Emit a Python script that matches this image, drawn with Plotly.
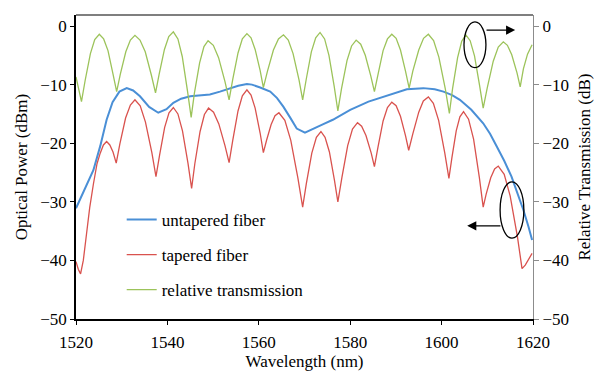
import plotly.graph_objects as go

# ---------------- data ----------------
blue_wl = [1520.0, 1522.0, 1523.8, 1525.3, 1526.7, 1528.0, 1529.5, 1531.1, 1532.5, 1534.0,
           1536.0, 1538.0, 1539.8, 1541.3, 1543.0, 1545.0, 1547.0, 1549.3, 1551.5, 1553.7,
           1555.5, 1557.4, 1558.5, 1560.3, 1562.5, 1564.0, 1565.4, 1567.0, 1568.3, 1570.1,
           1571.9, 1574.0, 1576.2, 1580.0, 1584.0, 1587.2, 1590.0, 1592.4, 1596.0, 1598.5,
           1600.4, 1602.3, 1604.0, 1606.5, 1609.1, 1610.6, 1612.1, 1613.7, 1615.3, 1616.6,
           1617.9, 1619.0, 1619.8]
blue_dbm = [-31.1, -27.8, -24.6, -20.5, -16.0, -13.0, -11.2, -10.6, -11.0, -12.0,
            -13.8, -14.8, -14.2, -13.1, -12.4, -12.0, -11.9, -11.7, -11.2, -10.6,
            -10.2, -9.9, -10.0, -10.5, -11.2, -12.3, -13.8, -15.8, -17.5, -18.2,
            -17.6, -16.8, -16.0, -14.3, -12.9, -12.1, -11.3, -10.8, -10.6, -10.8,
            -11.2, -11.8, -12.6, -14.3, -16.6, -18.4, -20.6, -23.0, -25.7, -28.4,
            -31.4, -34.2, -36.5]

red_wl = [1520.0, 1520.5, 1521.0,
          1521.6, 1522.3, 1523.0, 1523.8, 1524.6, 1525.3, 1526.0, 1526.7, 1527.4, 1528.1, 1528.8,
          1529.6, 1530.85, 1531.9, 1532.9, 1534.05, 1535.2, 1536.6, 1537.5,
          1538.3, 1539.4, 1540.35, 1541.3, 1542.3, 1543.3, 1544.5, 1545.3,
          1546.0, 1547.15, 1548.1, 1549.0, 1550.1, 1551.25, 1552.6, 1553.5,
          1554.3, 1555.45, 1556.4, 1557.4, 1558.3, 1559.2, 1560.3, 1561.0,
          1561.7, 1562.7, 1563.55, 1564.4, 1565.7, 1567.0, 1568.55, 1569.6,
          1570.4, 1571.6, 1572.6, 1573.6, 1574.5, 1575.45, 1576.55, 1577.3,
          1578.2, 1579.45, 1580.5, 1581.6, 1582.5, 1583.45, 1584.6, 1585.3,
          1586.1, 1587.2, 1588.15, 1589.1, 1590.05, 1591.0, 1592.1, 1592.8,
          1593.7, 1595.0, 1596.0, 1597.1, 1598.2, 1599.35, 1600.7, 1601.6,
          1602.25, 1603.2, 1604.0, 1604.8, 1605.9, 1607.0, 1608.25, 1609.1,
          1609.75, 1610.75, 1611.6, 1612.4, 1613.7, 1615.0, 1616.6, 1617.6,
          1618.3, 1619.0, 1619.8]
red_dbm = [-40.2, -41.5, -42.3,
           -40.0, -35.5, -31.0, -27.0, -23.5, -21.7, -20.3, -19.7, -20.3, -21.5, -23.4,
           -20.1, -15.7, -13.5, -12.6, -13.6, -16.4, -21.6, -25.7,
           -22.0, -17.3, -14.8, -13.9, -15.0, -17.9, -23.4, -27.7,
           -23.5, -18.0, -15.1, -14.0, -14.7, -16.7, -20.4, -23.3,
           -19.5, -14.5, -11.9, -10.9, -11.8, -14.0, -18.3, -21.6,
           -19.5, -16.8, -15.3, -14.8, -16.1, -19.5, -25.9, -30.9,
           -26.9, -21.7, -19.0, -18.0, -19.0, -21.5, -26.3, -30.0,
           -25.8, -20.4, -17.6, -16.5, -17.1, -18.7, -21.7, -24.0,
           -20.6, -16.2, -13.9, -13.0, -13.6, -15.4, -18.7, -21.2,
           -18.4, -14.7, -12.8, -12.1, -13.2, -16.1, -21.7, -26.0,
           -22.5, -17.9, -15.5, -14.6, -15.9, -19.3, -25.8, -30.9,
           -28.7, -25.9, -24.4, -23.9, -25.3, -29.0, -36.0, -41.4,
           -40.8, -39.8, -38.8]

green_wl = [1520.0, 1520.6, 1521.2,
            1522.0, 1523.15, 1524.1, 1525.1, 1526.05, 1527.0, 1528.1, 1528.9,
            1529.7, 1530.9, 1531.9, 1532.9, 1534.0, 1535.15, 1536.5, 1537.4,
            1538.2, 1539.35, 1540.3, 1541.3, 1542.3, 1543.25, 1544.4, 1545.2,
            1545.9, 1547.05, 1548.0, 1548.9, 1550.05, 1551.2, 1552.6, 1553.5,
            1554.3, 1555.45, 1556.4, 1557.4, 1558.3, 1559.2, 1560.3, 1561.0,
            1561.9, 1563.2, 1564.3, 1565.4, 1566.45, 1567.5, 1568.8, 1569.6,
            1570.4, 1571.5, 1572.45, 1573.4, 1574.4, 1575.35, 1576.5, 1577.3,
            1578.1, 1579.3, 1580.3, 1581.3, 1582.3, 1583.3, 1584.5, 1585.3,
            1586.1, 1587.2, 1588.15, 1589.1, 1590.05, 1591.0, 1592.1, 1592.9,
            1593.7, 1595.0, 1596.05, 1597.1, 1598.25, 1599.4, 1600.8, 1601.7,
            1602.4, 1603.5, 1604.4, 1605.3, 1606.25, 1607.2, 1608.3, 1609.1,
            1610.0, 1611.3, 1612.4, 1613.5, 1614.4, 1615.35, 1616.5, 1617.2,
            1617.9, 1618.8, 1619.8]
green_db = [-8.7, -10.9, -12.9,
            -9.3, -4.7, -2.3, -1.4, -2.2, -4.2, -8.2, -11.2,
            -8.2, -4.4, -2.4, -1.6, -2.4, -4.4, -8.4, -11.4,
            -8.2, -4.0, -1.8, -1.0, -2.2, -5.2, -11.1, -15.6,
            -11.5, -6.3, -3.5, -2.5, -3.3, -5.4, -9.5, -12.6,
            -9.1, -4.6, -2.2, -1.3, -2.0, -4.0, -7.6, -10.5,
            -7.7, -4.1, -2.2, -1.5, -2.4, -4.7, -9.2, -12.6,
            -9.0, -4.4, -2.0, -1.1, -2.2, -5.0, -10.3, -14.5,
            -10.7, -5.9, -3.4, -2.4, -3.1, -5.0, -8.5, -11.2,
            -8.2, -4.2, -2.2, -1.4, -2.1, -4.1, -7.7, -10.6,
            -7.7, -4.1, -2.1, -1.4, -2.5, -5.3, -10.7, -14.9,
            -10.7, -5.4, -2.6, -1.5, -2.5, -5.1, -10.1, -14.0,
            -10.5, -6.0, -3.6, -2.7, -3.3, -4.9, -8.0, -10.4,
            -7.3, -4.8, -3.2]

x_ticks = [1520, 1540, 1560, 1580, 1600, 1620]
y_ticks = [0, -10, -20, -30, -40, -50]
series_names = ["untapered fiber", "tapered fiber", "relative transmission"]

# ---------------- styling ----------------
FONT = "Liberation Serif, Times New Roman, serif"
FS = 17
C_BLUE = "#4a8fd6"
C_RED = "#d9524e"
C_GREEN = "#9cc35a"

fig = go.Figure()
fig.add_trace(go.Scatter(x=blue_wl, y=blue_dbm, mode="lines", name=series_names[0],
                         line=dict(color=C_BLUE, width=2), legendgroup="a"))
fig.add_trace(go.Scatter(x=red_wl, y=red_dbm, mode="lines", name=series_names[1],
                         line=dict(color=C_RED, width=1.3), legendgroup="b"))
fig.add_trace(go.Scatter(x=green_wl, y=green_db, mode="lines", name=series_names[2],
                         line=dict(color=C_GREEN, width=1.3), legendgroup="c", yaxis="y2"))

yrange = [-50, 1.88]
fig.update_layout(
    width=603, height=371,
    margin=dict(l=76, r=70, t=15, b=52),
    paper_bgcolor="white", plot_bgcolor="white",
    font=dict(family=FONT, size=FS, color="black"),
    showlegend=True,
    legend=dict(x=0.1, y=0.385, xanchor="left", yanchor="top",
                bgcolor="rgba(0,0,0,0)", font=dict(size=FS, family=FONT),
                traceorder="grouped", tracegroupgap=10, itemwidth=30),
    xaxis=dict(range=[1520, 1620], tickvals=x_ticks, showgrid=False, zeroline=False,
               showline=True, linecolor="black", linewidth=1.5,
               ticks="outside", ticklen=4, tickcolor="black", automargin=False,
               tickfont=dict(size=FS), ticklabelstandoff=3,
               title=dict(text="Wavelength (nm)", font=dict(size=FS), standoff=4)),
    yaxis=dict(range=yrange, tickvals=y_ticks, showgrid=False, zeroline=False,
               showline=True, linecolor="black", linewidth=1.5,
               ticks="outside", ticklen=4, tickcolor="black", automargin=False,
               tickfont=dict(size=FS),
               title=dict(text="Optical Power (dBm)", font=dict(size=FS), standoff=8)),
    yaxis2=dict(range=yrange, tickvals=y_ticks, showgrid=False, zeroline=False,
                overlaying="y", side="right", automargin=False,
                showline=True, linecolor="#8c8c8c", linewidth=1.2,
                ticks="outside", ticklen=5, tickcolor="#8c8c8c",
                tickfont=dict(size=FS),
                title=dict(text="Relative Transmission (dB)", font=dict(size=FS), standoff=10)),
)

# top border of the plot area
fig.add_shape(type="line", xref="paper", yref="paper", x0=0, x1=1, y0=1, y1=1,
              line=dict(color="#555555", width=1.5))

# loops + arrows indicating which axis each curve belongs to
fig.add_shape(type="circle", xref="x", yref="y", x0=1604.9, x1=1609.7, y0=-7.1, y1=0.7,
              line=dict(color="black", width=1.3))
fig.add_shape(type="circle", xref="x", yref="y", x0=1612.8, x1=1618.0, y0=-36.2, y1=-26.6,
              line=dict(color="black", width=1.3))
fig.add_annotation(x=1616.1, y=-0.7, ax=1609.5, ay=-0.7, xref="x", yref="y",
                   axref="x", ayref="y", text="", showarrow=True,
                   arrowhead=2, arrowsize=1.4, arrowwidth=1.3, arrowcolor="black")
fig.add_annotation(x=1605.6, y=-34.1, ax=1613.2, ay=-34.1, xref="x", yref="y",
                   axref="x", ayref="y", text="", showarrow=True,
                   arrowhead=2, arrowsize=1.4, arrowwidth=1.3, arrowcolor="black")

fig.write_html("out.html")
